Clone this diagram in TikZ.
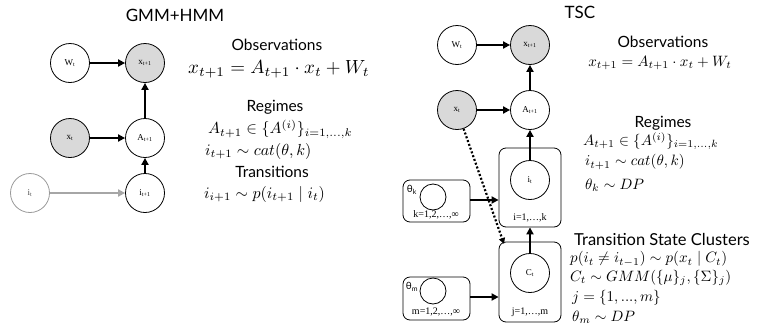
\documentclass[tikz,border=0pt]{standalone}
\usepackage{amsmath}
\usepackage{graphicx}
\usepackage{fontspec}
\newfontfamily\gill{Lato}
\newfontfamily\tms{Liberation Serif}
\usetikzlibrary{arrows.meta}
\newcommand{\bigmath}[1]{\scalebox{1.9}{$#1$}}
\newcommand{\lmath}[1]{\scalebox{1.6}{$#1$}}
\newcommand{\rmath}[1]{\scalebox{1.5}{$#1$}}
\begin{document}
\begin{tikzpicture}[x=1pt,y=-1pt,
  var/.style={circle,draw,line width=0.8pt,minimum size=39pt,inner sep=0pt,font=\tms\fontsize{9}{10}\selectfont},
  obs/.style={var,fill=black!15},
  small/.style={circle,draw,line width=0.8pt,minimum size=26pt,inner sep=0pt},
  plate/.style={draw,line width=0.8pt,rounded corners=7pt,inner sep=0pt},
  arr/.style={line width=1.8pt,-{Triangle[length=7pt,width=7pt]}},
  garr/.style={arr,draw=black!35,-{Triangle[length=7pt,width=7pt,fill=black!35]}},
  darr/.style={line width=2.2pt,dash pattern=on 2pt off 2pt,-{Triangle[length=6pt,width=6pt]}},
  ttl/.style={font=\gill\fontsize{17}{19}\selectfont},
  hd/.style={font=\gill\fontsize{15.5}{17}\selectfont},
  hdb/.style={font=\gill\fontsize{16.5}{18}\selectfont},
  mth/.style={inner sep=0pt},
  pl/.style={font=\tms\fontsize{10}{11}\selectfont,inner sep=0pt},
  th/.style={font=\gill\fontsize{10}{11}\selectfont,inner sep=0pt}
]
\useasboundingbox (0,0) rectangle (760,335);

% ---------- left panel ----------
\node[ttl] (t1) at (175,15) {GMM+HMM};
\node[var] (W) at (70,63) {W\textsubscript{t}};
\node[obs] (X1) at (145,63) {x\textsubscript{t+1}};
\node[obs] (Xt) at (70,138) {x\textsubscript{t}};
\node[var] (A) at (145,138) {A\textsubscript{t+1}};
\node[var,draw=black!40,text=black!70] (It) at (30,193) {i\textsubscript{t}};
\node[var] (I1) at (145,193) {i\textsubscript{t+1}};
\draw[arr] (W) -- (X1);
\draw[arr] (A) -- (X1);
\draw[arr] (Xt) -- (A);
\draw[arr] (I1) -- (A);
\draw[garr] (It) -- (I1);

\node[hd] (o1) at (277,45) {Observations};
\node[mth,anchor=west] (f1) at (188,69) {\bigmath{x_{t+1} = A_{t+1} \cdot x_t + W_t}};
\node[hd] (r1) at (275,107) {Regimes};
\node[mth,anchor=west] (a1) at (208,129) {\lmath{A_{t+1} \in \{A^{(i)}\}_{i=1,\ldots,k}}};
\node[mth,anchor=west] (c1) at (205,151) {\lmath{i_{t+1} \sim cat(\theta,k)}};
\node[hd] (tr1) at (272,172) {Transitions};
\node[mth,anchor=west] (p1) at (204,194) {\lmath{i_{i+1} \sim p(i_{t+1} \mid i_t)}};

% ---------- right panel ----------
\node[ttl] (t2) at (580,12) {TSC};
\node[var] (rW) at (457,45) {W\textsubscript{t}};
\node[obs] (rX1) at (530,45) {x\textsubscript{t+1}};
\node[obs] (rXt) at (457,110) {x\textsubscript{t}};
\node[var] (rA) at (530,110) {A\textsubscript{t+1}};

\node[plate,minimum width=62pt,minimum height=79pt] (pi) at (530,187.5) {};
\node[var] (it) at (530,180) {i\textsubscript{t}};
\node[pl] (lpi) at (530,218) {i=1,…,k};

\node[plate,minimum width=62pt,minimum height=80pt] (pc) at (530,282) {};
\node[var] (ct) at (530,273) {C\textsubscript{t}};
\node[pl] (lpc) at (530,312) {j=1,…,m};

\node[plate,minimum width=67pt,minimum height=42pt] (pk) at (436.5,201) {};
\node[small] (ck) at (433,197) {};
\node[th] (lk) at (412,190) {θ\textsubscript{k}};
\node[pl] (nk) at (436,215) {k=1,2,…,∞};

\node[plate,minimum width=67pt,minimum height=43pt] (pm) at (436.5,298.5) {};
\node[small] (cm) at (433,291) {};
\node[th] (lm) at (412,287) {θ\textsubscript{m}};
\node[pl] (nm) at (436,312) {m=1,2,…,∞};

\draw[arr] (rW) -- (rX1);
\draw[arr] (rA) -- (rX1);
\draw[arr] (rXt) -- (rA);
\draw[arr] (it) -- (rA);
\draw[arr] (ct) -- (pi.south);
\draw[arr] (pk.east |- 0,200) -- (pi.west |- 0,200);
\draw[arr] (pm.east |- 0,297) -- (pc.west |- 0,297);
\coordinate (dend) at (504,244);
\draw[darr] (rXt) -- (dend);

\node[hd] (o2) at (663,42) {Observations};
\node[mth] (f2) at (660,63) {\rmath{x_{t+1} = A_{t+1} \cdot x_t + W_t}};
\node[hd] (r2) at (663,123) {Regimes};
\node[mth,anchor=west] (a2) at (583,141) {\rmath{A_{t+1} \in \{A^{(i)}\}_{i=1,\ldots,k}}};
\node[mth,anchor=west] (c2) at (585,162) {\rmath{i_{t+1} \sim cat(\theta,k)}};
\node[mth,anchor=west] (d2) at (585,185) {\rmath{\theta_k \sim DP}};
\node[hdb] (ts2) at (662,239) {Transition State Clusters};
\node[mth,anchor=west] (p2) at (570,259) {\rmath{p(i_t \neq i_{t-1}) \sim p(x_t \mid C_t)}};
\node[mth,anchor=west] (g2) at (570,278) {\rmath{C_t \sim GMM(\{\mu\}_j,\{\Sigma\}_j)}};
\node[mth,anchor=west] (j2) at (572,298) {\rmath{j=\{1,...,m\}}};
\node[mth,anchor=west] (m2) at (572,317) {\rmath{\theta_m \sim DP}};
\end{tikzpicture}
\end{document}
